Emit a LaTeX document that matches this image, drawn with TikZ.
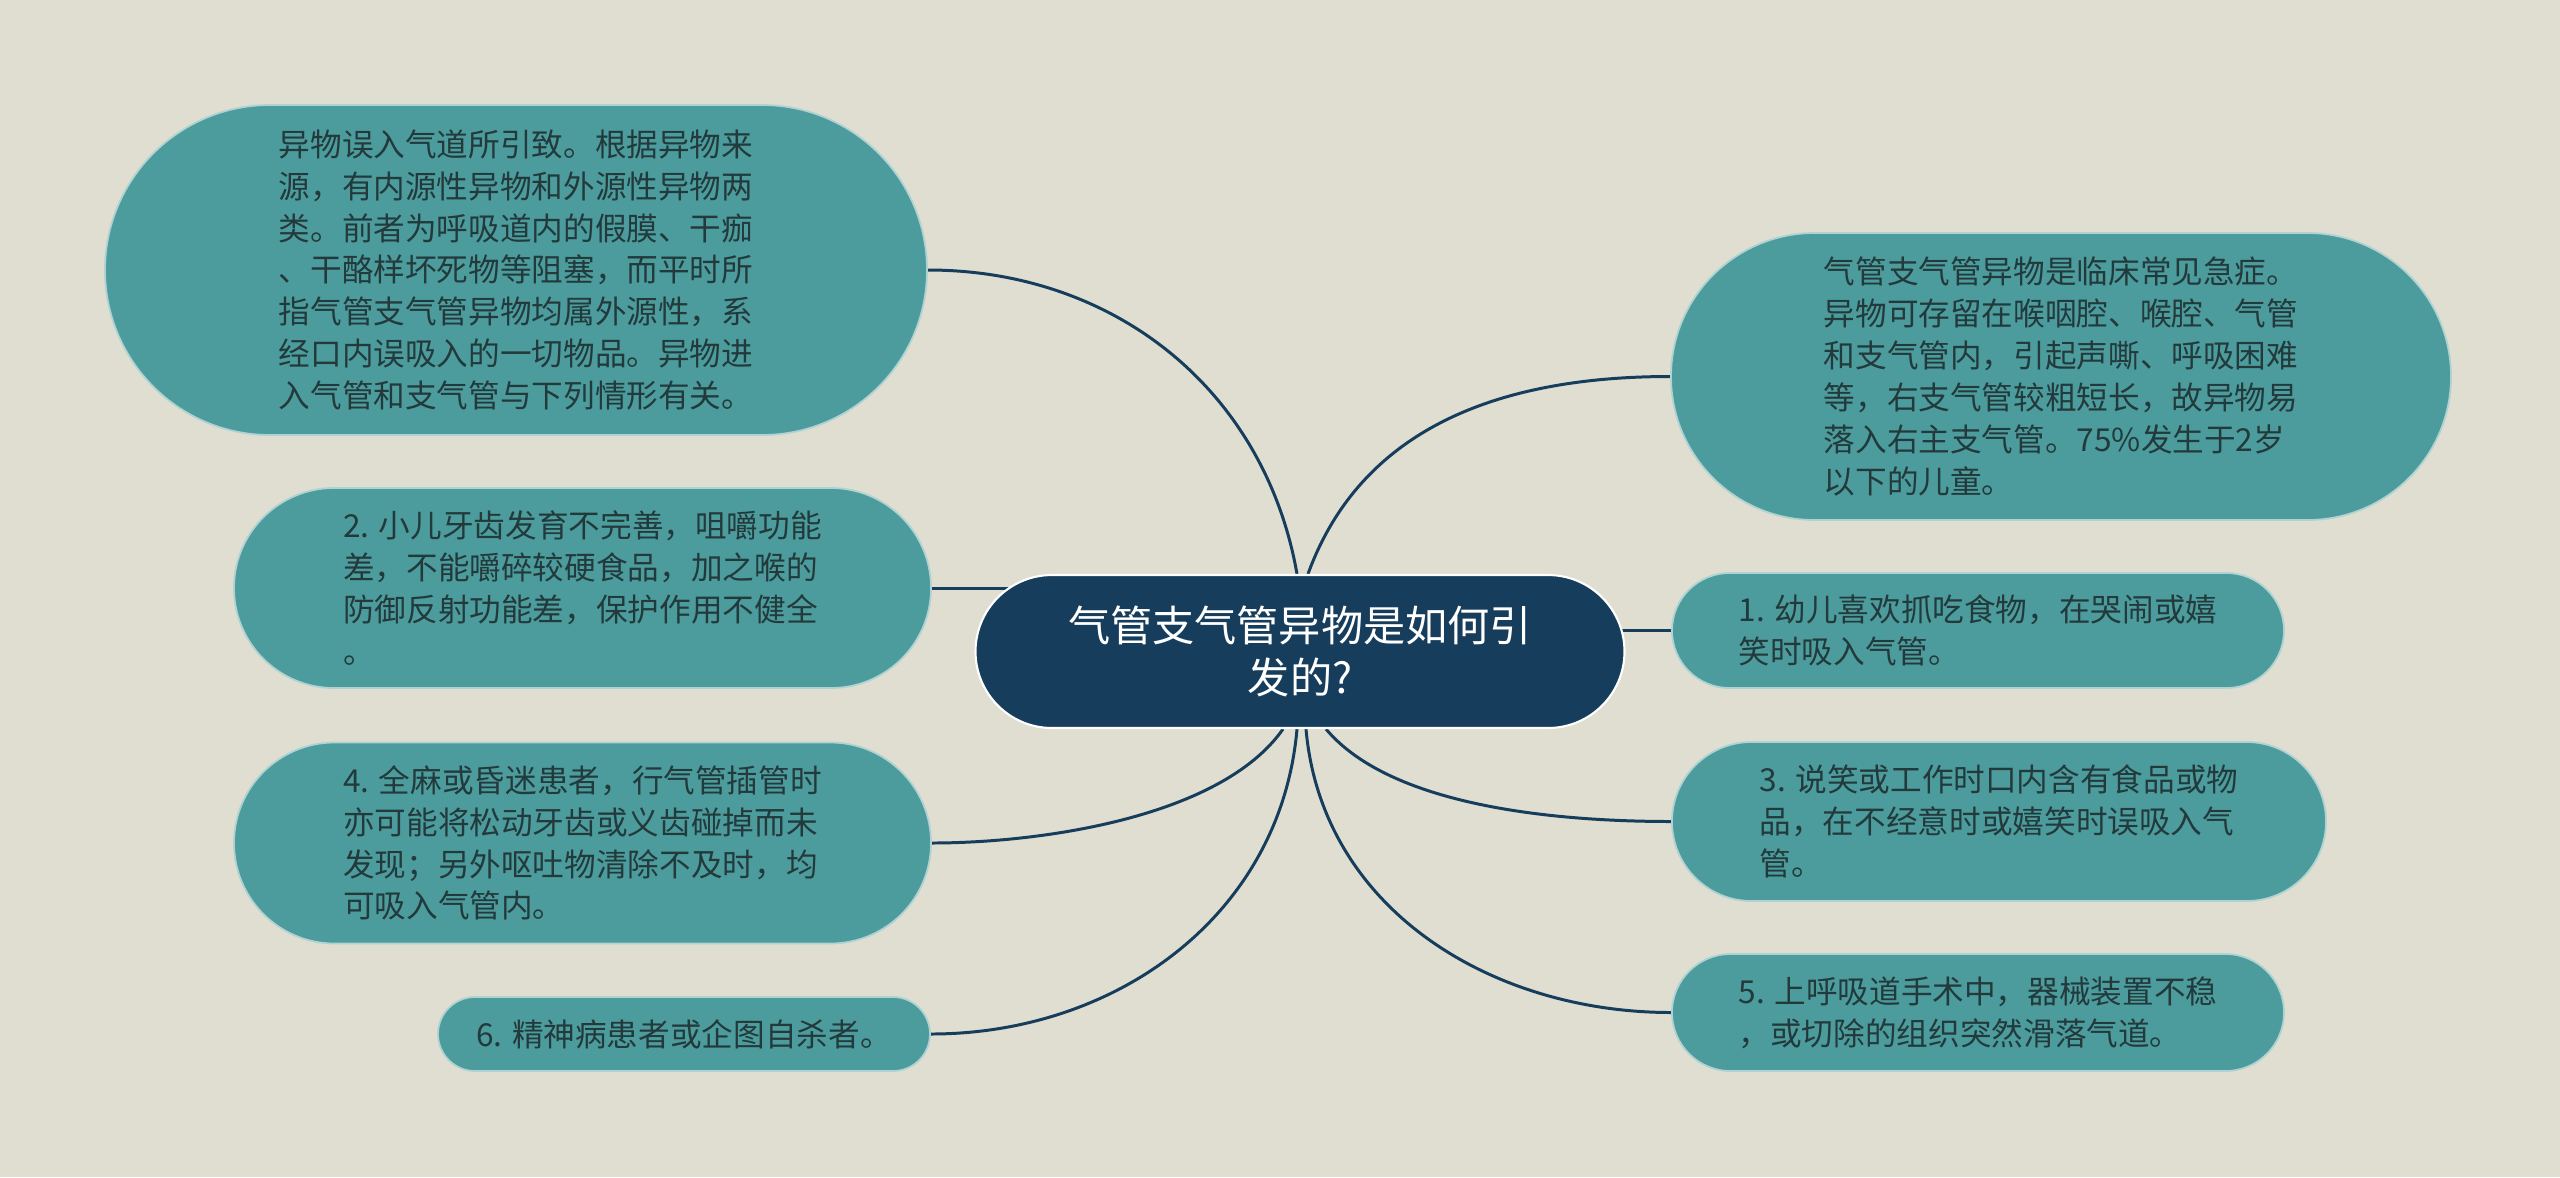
\documentclass[tikz,border=0pt]{standalone}
\usepackage{fontspec}
\setmainfont{Noto Sans CJK SC}
\usetikzlibrary{shapes.misc,backgrounds}
\definecolor{bgcol}{HTML}{DFDED1}
\definecolor{rootcol}{HTML}{173D5C}
\definecolor{leafcol}{HTML}{4D9C9D}
\definecolor{txtcol}{HTML}{233A3C}

\begin{document}
\begin{tikzpicture}[
 leaf/.style={rounded rectangle,fill=leafcol,draw=white!55!leafcol,line width=0.5pt,
  text=txtcol,align=left,inner sep=0pt,font=\fontsize{9pt}{11.9pt}\selectfont},
 hub/.style={rounded rectangle,fill=rootcol,draw=white,line width=0.6pt,
  text=white,align=center,inner sep=0pt,font=\fontsize{12pt}{14.8pt}\selectfont},
 link/.style={rootcol,line width=0.85pt}]
 \useasboundingbox (0,0) rectangle (25.6,-11.77);
 % centre
 \node[hub,minimum width=6.49cm,minimum height=1.53cm] (root) at (13.0,-6.515)
  {气管支气管异物是如何引\\发的?};
 % left side
 \node[leaf,minimum width=8.22cm,minimum height=3.30cm] (l1) at (5.16,-2.70)
  {异物误入气道所引致。根据异物来\\源，有内源性异物和外源性异物两\\类。前者为呼吸道内的假膜、干痂\\、干酪样坏死物等阻塞，而平时所\\指气管支气管异物均属外源性，系\\经口内误吸入的一切物品。异物进\\入气管和支气管与下列情形有关。};
 \node[leaf,minimum width=6.97cm,minimum height=2.00cm] (l2) at (5.825,-5.88)
  {2. 小儿牙齿发育不完善，咀嚼功能\\差，不能嚼碎较硬食品，加之喉的\\防御反射功能差，保护作用不健全\\。};
 \node[leaf,minimum width=6.97cm,minimum height=2.01cm] (l3) at (5.825,-8.43)
  {4. 全麻或昏迷患者，行气管插管时\\亦可能将松动牙齿或义齿碰掉而未\\发现；另外呕吐物清除不及时，均\\可吸入气管内。};
 \node[leaf,minimum width=4.92cm,minimum height=0.74cm] (l4) at (6.84,-10.34)
  {6. 精神病患者或企图自杀者。};
 % right side
 \node[leaf,minimum width=7.80cm,minimum height=2.87cm] (r1) at (20.61,-3.765)
  {气管支气管异物是临床常见急症。\\异物可存留在喉咽腔、喉腔、气管\\和支气管内，引起声嘶、呼吸困难\\等，右支气管较粗短长，故异物易\\落入右主支气管。75\%发生于2岁\\以下的儿童。};
 \node[leaf,minimum width=6.12cm,minimum height=1.15cm] (r2) at (19.78,-6.305)
  {1. 幼儿喜欢抓吃食物，在哭闹或嬉\\笑时吸入气管。};
 \node[leaf,minimum width=6.54cm,minimum height=1.59cm] (r3) at (19.99,-8.215)
  {3. 说笑或工作时口内含有食品或物\\品，在不经意时或嬉笑时误吸入气\\管。};
 \node[leaf,minimum width=6.12cm,minimum height=1.17cm] (r4) at (19.78,-10.125)
  {5. 上呼吸道手术中，器械装置不稳\\，或切除的组织突然滑落气道。};
 %
 \begin{scope}[on background layer]
 \fill[bgcol] (0,0) rectangle (25.6,-11.77);
 \foreach \sh/\side/\ao/\ai/\lo/\tgt/\anc in {-0.03/north/100/0/1/l1/east,0.08/north/70/180/1/r1/west,
  -0.17/south/-125/0/0.75/l3/east,-0.03/south/-95/0/1/l4/east,0.06/south/-85/180/1/r4/west,0.26/south/-50/180/0.75/r3/west}
 {\draw[link] ([xshift=\sh cm]root.\side) to[out=\ao,in=\ai,looseness=\lo] (\tgt.\anc);}
 \draw[link] (l2.east) -- (l2.east -| root.center);
 \draw[link] (r2.west) -- (r2.west -| root.center);
 \end{scope}
\end{tikzpicture}
\end{document}
